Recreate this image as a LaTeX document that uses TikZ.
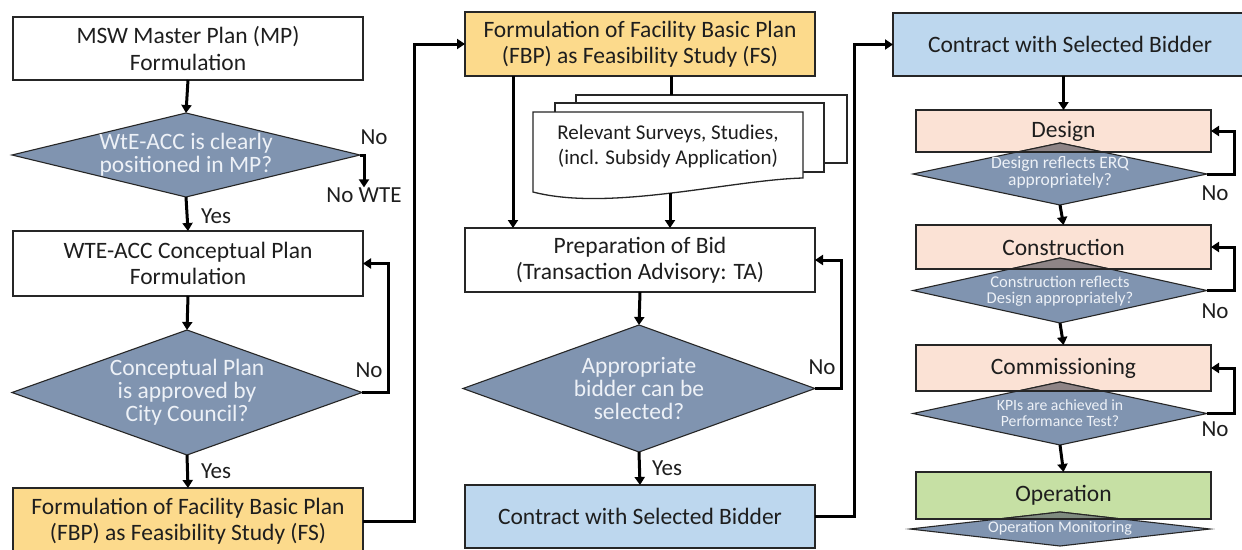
\documentclass[tikz,border=0pt]{standalone}
\usepackage{fontspec}
\setmainfont{Carlito}
\usetikzlibrary{shapes.geometric,arrows.meta}

\definecolor{txtc}{HTML}{1E1E1E}
\definecolor{bordc}{HTML}{262626}
\definecolor{dfill}{HTML}{8094B0}
\definecolor{dtxt}{HTML}{EDF1F7}
\definecolor{yell}{HTML}{FCDA8C}
\definecolor{lblue}{HTML}{BDD7EE}
\definecolor{peach}{HTML}{FBE2D5}
\definecolor{lgreen}{HTML}{C6E0A4}
\definecolor{ovlpeach}{HTML}{8E8486}
\definecolor{ovlgreen}{HTML}{7F8B80}

\tikzset{
  box/.style={draw=bordc, line width=1.3pt, minimum width=350pt, inner sep=0pt,
    outer sep=0pt, align=center, text=txtc, font=\fontsize{23.5}{26.5}\selectfont},
  sbox/.style={box, minimum width=295pt},
  diam/.style={diamond, draw=bordc, line width=1.1pt, fill=dfill, inner sep=0pt, outer sep=0pt},
  dtext/.style={align=center, text=dtxt, inner sep=0pt, font=\fontsize{23.5}{23}\selectfont},
  stext/.style={align=center, text=dtxt, inner sep=0pt, font=\fontsize{16.5}{16.5}\selectfont},
  lbl/.style={text=txtc, inner sep=0pt, font=\fontsize{23}{24}\selectfont},
  line/.style={draw=black, line width=3pt},
  arr/.style={line, -{Triangle[length=8pt,width=10pt]}},
  docst/.style={draw=bordc, line width=1.3pt, fill=white},
  bline/.style={draw=bordc, line width=1.3pt},
  ovl/.style={draw=bordc, line width=1.1pt}
}

\begin{document}
\begin{tikzpicture}[x=1pt,y=-1pt]
\useasboundingbox (0,0) rectangle (1242,549);
\clip (0,0) rectangle (1242,549);
\fill[white] (0,0) rectangle (1242,549);

% ---------- left column ----------
\node[box, fill=white, minimum height=63pt] (mp) at (188,48.5) {MSW Master Plan (MP)\\Formulation};
\node[diam, minimum width=348pt, minimum height=84pt] (d1) at (186,155) {};
\node[dtext] (d1t) at (186,155) {WtE-ACC is clearly\\positioned in MP?};
\node[lbl] (no1) at (374,137) {No};
\node[lbl] (nowte) at (364,195) {No WTE};
\node[lbl] (yes1) at (216,216) {Yes};
\node[box, fill=white, minimum height=65pt] (cp) at (188,263.5) {WTE-ACC Conceptual Plan\\Formulation};
\node[diam, minimum width=350pt, minimum height=125pt] (d2) at (187,392.5) {};
\node[dtext] (d2t) at (187,392) {Conceptual Plan\\is approved by\\City Council?};
\node[lbl] (no2) at (369,370) {No};
\node[lbl] (yes2) at (216,471) {Yes};
\node[box, fill=yell, minimum height=66pt] (fbp1) at (188,521) {Formulation of Facility Basic Plan\\(FBP) as Feasibility Study (FS)};

\draw[arr] (mp.south) -- (d1.north);
\draw[arr] (d1.east) -| (nowte.north);
\draw[arr] (d1.south) -- (cp.north);
\draw[arr] (cp.south) -- (d2.north);
\draw[arr] (d2.east) -- ++(26,0) |- (cp.east);
\draw[arr] (d2.south) -- (fbp1.north);

% ---------- middle column ----------
\node[box, fill=yell, minimum height=64pt] (fbp2) at (640,44) {Formulation of Facility Basic Plan\\(FBP) as Feasibility Study (FS)};
\draw[arr] (fbp1.east) -- ++(51,0) |- (fbp2.west);

\draw[docst] (576,95) rectangle (847,163);
\draw[docst] (555,103) rectangle (824,172);
\draw[docst] (533,112) -- (803,112) -- (803,178)
  .. controls (730,180) and (610,212) .. (533,192) -- cycle;
\node[align=center, text=txtc, inner sep=0pt, font=\fontsize{21}{25}\selectfont] (docs) at (668,146)
  {Relevant Surveys, Studies,\\(incl. Subsidy Application)};
\coordinate (doctop) at (671,95);
\coordinate (docbot) at (670,193);

\node[box, fill=white, minimum height=64pt] (prep) at (640,260) {Preparation of Bid\\(Transaction Advisory: TA)};
\node[diam, minimum width=352pt, minimum height=127pt] (d3) at (639,388.5) {};
\node[dtext] (d3t) at (639,388) {Appropriate\\bidder can be\\selected?};
\node[lbl] (no3) at (822,367) {No};
\node[lbl] (yes3) at (667,468) {Yes};
\node[box, fill=lblue, minimum height=63pt] (cb1) at (640,516.5) {Contract with Selected Bidder};

\draw[line] (fbp2.south -| doctop) -- (doctop);
\draw[arr] ([xshift=-127pt]fbp2.south) -- ([xshift=-127pt]prep.north);
\draw[arr] (docbot) -- (prep.north -| docbot);
\draw[arr] (prep.south) -- (d3.north);
\draw[arr] (d3.east) -- ++(26,0) |- (prep.east);
\draw[arr] (d3.south) -- (cb1.north);

% ---------- right column ----------
\node[box, fill=lblue, minimum width=354pt, minimum height=63pt] (cb2) at (1070,44.5) {Contract with Selected Bidder};
\draw[arr] (cb1.east) -- ++(39,0) |- (cb2.west);

% Design stage
\node[sbox, fill=peach, minimum height=42pt] (des) at (1063.5,131) {Design};
\node[diam, minimum width=294pt, minimum height=62pt] (dd1) at (1060,174) {};
\begin{scope}
  \clip (des.south west) rectangle (des.north east);
  \filldraw[ovl, fill=ovlpeach] (dd1.north) -- (dd1.east) -- (dd1.south) -- (dd1.west) -- cycle;
\end{scope}
\draw[bline] (des.south west) -- (des.south east);
\node[stext, font=\fontsize{17.5}{17}\selectfont] (dd1t) at (1060,172) {Design reflects ERQ\\appropriately?};
\node[lbl] (no4) at (1215,193) {No};

% Construction stage
\node[sbox, fill=peach, minimum height=44pt] (con) at (1063.5,247) {Construction};
\node[diam, minimum width=294pt, minimum height=65pt] (dd2) at (1060,290.5) {};
\begin{scope}
  \clip (con.south west) rectangle (con.north east);
  \filldraw[ovl, fill=ovlpeach] (dd2.north) -- (dd2.east) -- (dd2.south) -- (dd2.west) -- cycle;
\end{scope}
\draw[bline] (con.south west) -- (con.south east);
\node[stext] (dd2t) at (1060,291) {Construction reflects\\Design appropriately?};
\node[lbl] (no5) at (1215,311) {No};

% Commissioning stage
\node[sbox, fill=peach, minimum height=46pt] (com) at (1063.5,368) {Commissioning};
\node[diam, minimum width=294pt, minimum height=63pt] (dd3) at (1060,413.5) {};
\begin{scope}
  \clip (com.south west) rectangle (com.north east);
  \filldraw[ovl, fill=ovlpeach] (dd3.north) -- (dd3.east) -- (dd3.south) -- (dd3.west) -- cycle;
\end{scope}
\draw[bline] (com.south west) -- (com.south east);
\node[stext, font=\fontsize{15.7}{16}\selectfont] (dd3t) at (1060,413) {KPIs are achieved in\\Performance Test?};
\node[lbl] (no6) at (1215,429) {No};

% Operation stage
\node[sbox, fill=lgreen, minimum height=47pt] (op) at (1063.5,495.5) {Operation};
\node[diam, minimum width=300pt, minimum height=34pt] (dd4) at (1060,529) {};
\begin{scope}
  \clip (op.south west) rectangle (op.north east);
  \filldraw[ovl, fill=ovlgreen] (dd4.north) -- (dd4.east) -- (dd4.south) -- (dd4.west) -- cycle;
\end{scope}
\draw[bline] (op.south west) -- (op.south east);
\node[stext, font=\fontsize{16.2}{17}\selectfont] (dd4t) at (1060,528) {Operation Monitoring};

\draw[arr] (des.north |- cb2.south) -- (des.north);
\draw[arr] (dd1.east) -- ++(27,0) |- (des.east);
\draw[arr] (dd1.south) -- (con.north);
\draw[arr] (dd2.east) -- ++(27,0) |- (con.east);
\draw[arr] (dd2.south) -- (com.north);
\draw[arr] (dd3.east) -- ++(27,0) |- (com.east);
\draw[arr] (dd3.south) -- (op.north);
\end{tikzpicture}
\end{document}
